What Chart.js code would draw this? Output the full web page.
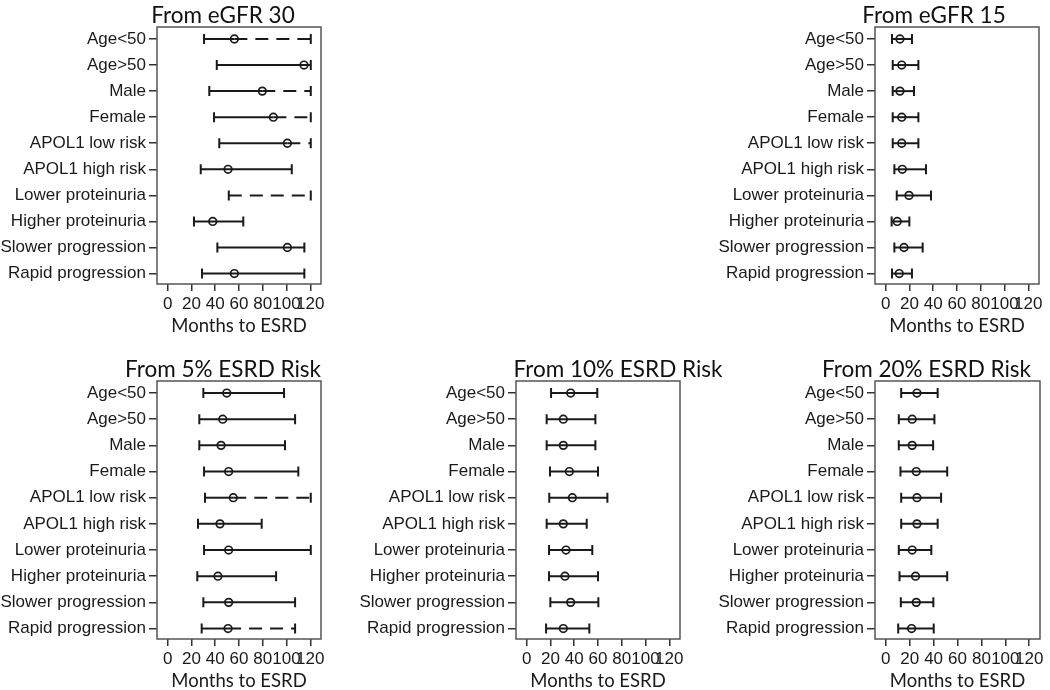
<!DOCTYPE html>
<html>
<head>
<meta charset="utf-8">
<script src="https://cdn.jsdelivr.net/npm/chart.js@4.4.1/dist/chart.umd.min.js"></script>
<style>
  html, body { margin: 0; padding: 0; background: #fff; overflow: hidden; }
  #wrap { position: relative; width: 1050px; height: 690px; }
  canvas { position: absolute; }
</style>
</head>
<body>
<div id="wrap">
  <canvas id="p1"></canvas>
  <canvas id="p2"></canvas>
  <canvas id="p3"></canvas>
  <canvas id="p4"></canvas>
  <canvas id="p5"></canvas>
</div>
<script>
const categories = ['Age<50', 'Age>50', 'Male', 'Female', 'APOL1 low risk', 'APOL1 high risk',
  'Lower proteinuria', 'Higher proteinuria', 'Slower progression', 'Rapid progression'];
const xTicks = [0, 20, 40, 60, 80, 100, 120];
const xTitle = 'Months to ESRD';

// lower limit, estimate, upper limit (months); dashed = upper part drawn dashed
const egfr30Low    = [30.6, 41.3, 35, 39, 43.4, 27.8, 51.4, 22.1, 41.8, 28.9];
const egfr30Est    = [56.1, 114.7, 79.6, 88.9, 100.7, 50.8, null, 37.9, 100.7, 56.1];
const egfr30High   = [120.4, 120.4, 120.4, 120.4, 120.4, 104.4, 120.4, 63.6, 115, 115];
const egfr30Dashed = [1, 0, 1, 1, 1, 0, 1, 0, 0, 0];

const egfr15Low    = [5.3, 5.9, 5.9, 5.9, 5.9, 7.3, 9.3, 5, 7.3, 5.3];
const egfr15Est    = [12, 13.5, 12, 13.5, 13.5, 14, 19.6, 9.7, 15.4, 11.4];
const egfr15High   = [22.1, 27.5, 23.8, 27.5, 27.5, 33.9, 38.1, 19.9, 31.1, 22.1];
const egfr15Dashed = [0, 0, 0, 0, 0, 0, 0, 0, 0, 0];

const risk5Low     = [30, 26.6, 26.6, 30.6, 31.4, 25.5, 30.6, 24.9, 30, 28.6];
const risk5Est     = [49.7, 46.3, 44.9, 51.3, 55.2, 44, 51.3, 42.3, 51.3, 50.8];
const risk5High    = [97.9, 107.2, 98.7, 109.9, 120.4, 79.1, 120.4, 91.2, 107.2, 107.2];
const risk5Dashed  = [0, 0, 0, 0, 1, 0, 0, 0, 0, 1];

const risk10Low    = [20.5, 16.8, 16.8, 19.6, 19, 16.8, 18.8, 18.8, 19.9, 16.3];
const risk10Est    = [37, 30.8, 30.8, 35.9, 38.4, 30.8, 33.1, 32.2, 37, 30.8];
const risk10High   = [59.4, 57.8, 57.8, 60, 67.9, 50.5, 55.2, 60, 60.3, 52.7];
const risk10Dashed = [0, 0, 0, 0, 0, 0, 0, 0, 0, 0];

const risk20Low    = [12.9, 10.9, 10.9, 12.3, 12.9, 12.9, 10.9, 11.5, 12.6, 10.4];
const risk20Est    = [26.1, 22.1, 22.1, 25.5, 26.1, 26.1, 22.1, 24.9, 25.5, 21.6];
const risk20High   = [43.4, 40.7, 39.6, 51.4, 46.3, 43.4, 38.1, 51.4, 39.8, 40.1];
const risk20Dashed = [0, 0, 0, 0, 0, 0, 0, 0, 0, 0];

const ink = '#1a1a1a';
const labelFont = '"Liberation Sans", Arial, sans-serif';
const tickFont = '"Liberation Sans Narrow", "Liberation Sans", Arial, sans-serif';
const titleFont = 'Lato, "Open Sans", sans-serif';

const panels = [
  { id: 'p1', title: 'From eGFR 30', low: egfr30Low, est: egfr30Est, high: egfr30High, dashed: egfr30Dashed,
    left: 0, top: 0, width: 335, height: 340, padTop: 27, padRight: 14, titleDx: -16 },
  { id: 'p2', title: 'From eGFR 15', low: egfr15Low, est: egfr15Est, high: egfr15High, dashed: egfr15Dashed,
    left: 718, top: 0, width: 332, height: 340, padTop: 27, padRight: 11, titleDx: -23 },
  { id: 'p3', title: 'From 5% ESRD Risk', low: risk5Low, est: risk5Est, high: risk5High, dashed: risk5Dashed,
    left: 0, top: 345, width: 335, height: 350, padTop: 36, padRight: 14, titleDx: -16 },
  { id: 'p4', title: 'From 10% ESRD Risk', low: risk10Low, est: risk10Est, high: risk10High, dashed: risk10Dashed,
    left: 359, top: 345, width: 370, height: 350, padTop: 36, padRight: 49, titleDx: 20 },
  { id: 'p5', title: 'From 20% ESRD Risk', low: risk20Low, est: risk20Est, high: risk20High, dashed: risk20Dashed,
    left: 718, top: 345, width: 332, height: 350, padTop: 36, padRight: 10, titleDx: -31 }
];

// error bars, caps, frame and panel title
function forestPlugin(p) {
  return {
    id: 'forest_' + p.id,
    beforeDatasetsDraw(chart) {
      const { ctx, chartArea: a, scales: { x, y } } = chart;
      ctx.save();
      ctx.strokeStyle = '#555';
      ctx.lineWidth = 1.5;
      ctx.strokeRect(a.left, a.top, a.width, a.height);

      ctx.strokeStyle = ink;
      ctx.lineWidth = 2;
      p.low.forEach((lo, i) => {
        const yy = y.getPixelForValue(i);
        const x0 = x.getPixelForValue(lo);
        const x1 = x.getPixelForValue(p.high[i]);
        const split = p.dashed[i] ? x.getPixelForValue(p.est[i] ?? lo) : x1;
        ctx.setLineDash([]);
        ctx.beginPath();
        ctx.moveTo(x0, yy);
        ctx.lineTo(split, yy);
        ctx.stroke();
        if (split < x1) {
          ctx.setLineDash([13, 8]);
          ctx.beginPath();
          ctx.moveTo(split, yy);
          ctx.lineTo(x1, yy);
          ctx.stroke();
          ctx.setLineDash([]);
        }
        ctx.beginPath();
        ctx.moveTo(x0, yy - 5);
        ctx.lineTo(x0, yy + 5);
        ctx.moveTo(x1, yy - 5);
        ctx.lineTo(x1, yy + 5);
        ctx.stroke();
      });
      ctx.restore();
    },
    afterDraw(chart) {
      const { ctx, chartArea: a } = chart;
      ctx.save();
      ctx.font = '22.5px ' + titleFont;
      ctx.fillStyle = '#111';
      ctx.textAlign = 'center';
      ctx.textBaseline = 'alphabetic';
      ctx.fillText(p.title, (a.left + a.right) / 2 + p.titleDx, a.top - 4.5);
      ctx.restore();
    }
  };
}

panels.forEach(p => {
  const cv = document.getElementById(p.id);
  cv.width = p.width;
  cv.height = p.height;
  cv.style.left = p.left + 'px';
  cv.style.top = p.top + 'px';

  const points = p.est
    .map((v, i) => (v == null ? null : { x: v, y: i }))
    .filter(Boolean);

  new Chart(cv.getContext('2d'), {
    type: 'scatter',
    data: {
      datasets: [{
        data: points,
        pointStyle: 'circle',
        pointRadius: 3.8,
        pointBorderWidth: 1.7,
        borderColor: ink,
        backgroundColor: 'rgba(0,0,0,0)',
        showLine: false
      }]
    },
    options: {
      responsive: false,
      animation: false,
      events: [],
      layout: { padding: { top: p.padTop, right: p.padRight, left: 0, bottom: 0 } },
      plugins: { legend: { display: false }, tooltip: { enabled: false }, title: { display: false } },
      scales: {
        x: {
          type: 'linear',
          min: -9,
          max: 129,
          afterBuildTicks: s => { s.ticks = xTicks.map(v => ({ value: v })); },
          afterFit: s => { s.height = 56; },
          border: { display: false },
          grid: { drawOnChartArea: false, drawTicks: true, tickLength: 7, color: '#333', lineWidth: 1.5 },
          ticks: { autoSkip: false, maxRotation: 0, padding: 3, color: ink, font: { family: tickFont, size: 17 } },
          title: { display: true, text: xTitle, color: ink, font: { family: titleFont, size: 18.5 }, padding: { top: 0, bottom: 3 } }
        },
        y: {
          type: 'linear',
          reverse: true,
          min: -0.46,
          max: 9.4,
          afterBuildTicks: s => { s.ticks = categories.map((c, i) => ({ value: i })); },
          afterFit: s => { s.width = 157; },
          border: { display: false },
          grid: { drawOnChartArea: false, drawTicks: true, tickLength: 8, color: '#333', lineWidth: 1.5 },
          ticks: { autoSkip: false, padding: 3, color: ink, font: { family: labelFont, size: 17 },
                   callback: v => categories[v] }
        }
      }
    },
    plugins: [forestPlugin(p)]
  });
});
</script>
</body>
</html>
